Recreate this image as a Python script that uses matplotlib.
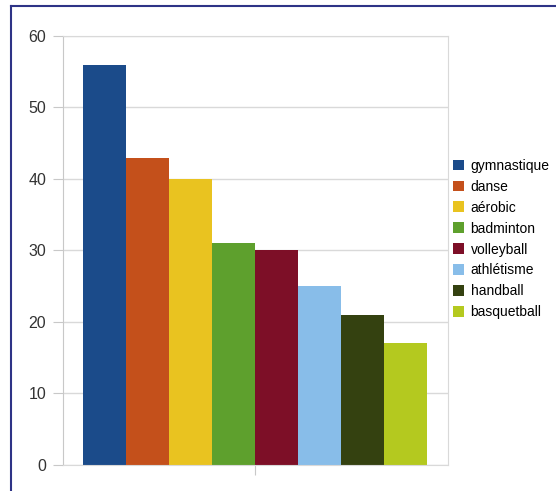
import matplotlib.pyplot as plt
from matplotlib.lines import Line2D
from matplotlib.patches import Patch

# données du graphique
sports = ["gymnastique", "danse", "aérobic", "badminton",
          "volleyball", "athlétisme", "handball", "basquetball"]
valeurs = [56, 43, 40, 31, 30, 25, 21, 17]
couleurs = ["#1b4b8a", "#c4501b", "#e9c320", "#5ea02d",
            "#7d0f27", "#88bde9", "#344110", "#b4c91f"]
y_ticks = [0, 10, 20, 30, 40, 50, 60]

plt.rcParams['font.family'] = ['Liberation Sans', 'DejaVu Sans']

fig = plt.figure(figsize=(5.56, 4.91), dpi=100)
ax = fig.add_axes([0.1133, 0.053, 0.6924, 0.8737])

# une barre par sport, côte à côte
for i, (nom, val, c) in enumerate(zip(sports, valeurs, couleurs)):
    ax.bar(i, val, width=1.0, align='edge', color=c, label=nom, zorder=2)

ax.set_xlim(-0.465, 8.49)
ax.set_ylim(0, 60)
ax.set_yticks(y_ticks)
ax.set_xticks([4])
ax.set_xticklabels([""])

ax.grid(axis='y', color='#d9d9d9', linewidth=1, zorder=0)
for side in ['top', 'right', 'left', 'bottom']:
    ax.spines[side].set_color('#d9d9d9')
ax.spines['left'].set_color('#c8c8c8')
ax.tick_params(axis='y', colors='#c8c8c8', labelcolor='#333333',
               length=7, labelsize=11.5, pad=5)
ax.tick_params(axis='x', colors='#c8c8c8', length=7)

# légende à droite
handles = [Patch(facecolor=c, edgecolor='none') for c in couleurs]
fig.legend(handles, sports, loc='upper left', bbox_to_anchor=(0.804, 0.688),
           frameon=False, fontsize=10, handlelength=0.85, handleheight=0.8,
           handletextpad=0.45, labelspacing=0.5, borderaxespad=0)

# cadre bleu en haut et à gauche
fig.add_artist(Line2D([0.02, 0.02], [0.0, 0.987], color='#2e3386', linewidth=1.5))
fig.add_artist(Line2D([0.02, 1.0], [0.987, 0.987], color='#2e3386', linewidth=1.5))

fig.savefig("out.png", dpi=100)
